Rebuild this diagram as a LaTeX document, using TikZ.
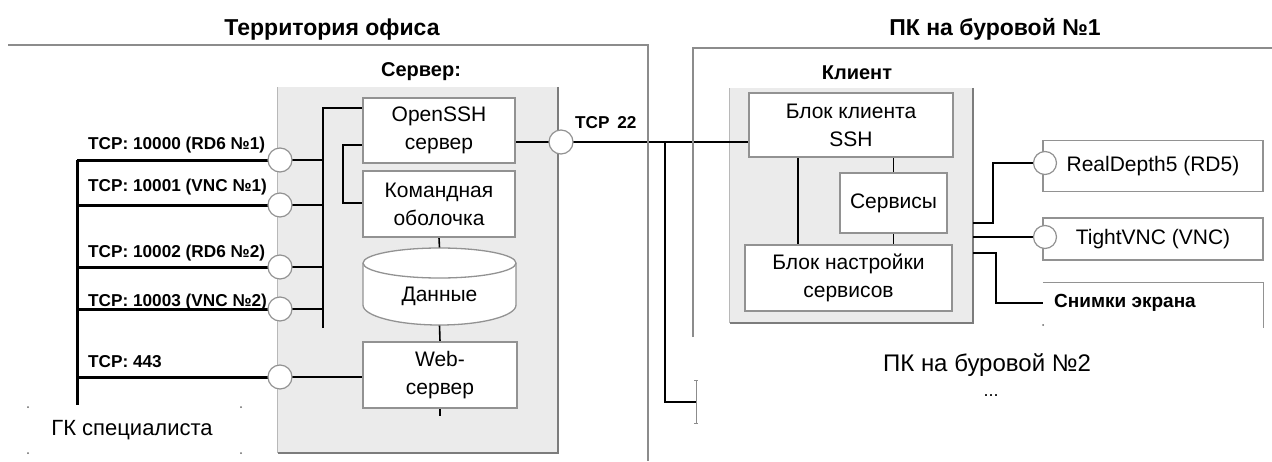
\documentclass[tikz,border=0pt]{standalone}
\usepackage{fontspec}
\setmainfont{Liberation Sans}
\usetikzlibrary{calc}
\definecolor{zonegray}{HTML}{8C8C8C}
\definecolor{boxline}{HTML}{929292}
\definecolor{panel}{HTML}{EBEBEB}
\definecolor{panelhi}{HTML}{B8B8B8}
\definecolor{paneldark}{HTML}{7C7C7C}
\pgfdeclarelayer{bg}
\pgfdeclarelayer{wires}
\pgfsetlayers{bg,wires,main}

\begin{document}
\begin{tikzpicture}[x=1pt,y=-1pt,
  block/.style={draw=boxline, line width=1.3pt, fill=white, inner sep=0pt,
    align=center, font=\fontsize{21}{28}\selectfont},
  panelbox/.style={fill=panel, inner sep=0pt},
  port/.style={circle, draw=boxline, line width=1.2pt, fill=white,
    minimum size=24pt, inner sep=0pt},
  sport/.style={port, minimum size=23pt},
  portlbl/.style={anchor=west, inner sep=0pt, font=\bfseries\fontsize{17.2}{18}\selectfont},
  title/.style={inner sep=0pt, font=\bfseries\fontsize{23}{26}\selectfont},
  caption/.style={inner sep=0pt, font=\fontsize{22}{24}\selectfont},
  heading/.style={inner sep=0pt, font=\bfseries\fontsize{20}{22}\selectfont},
  wire/.style={line width=1.6pt, black},
  busw/.style={line width=2.2pt, black},
  heavy/.style={line width=3pt, black},
  zone/.style={line width=2.6pt, zonegray},
  thinzone/.style={line width=1pt, zonegray},
  dot/.style={fill=black!60, inner sep=0pt, minimum size=2pt, circle},
]
\useasboundingbox (0,0) rectangle (1272,461);

% ---------- zones ----------
\draw[zone] (8,45) -- (648,45) -- (648,461);
\draw[zone] (693,337) -- (693,48) -- (1272,48);
\node[title] (officeT) at (332,30) {Территория офиса};
\node[title] (rig1T) at (995,29) {ПК на буровой №1};
\node[caption, font=\fontsize{24}{26}\selectfont] (rig2T) at (987,365) {ПК на буровой №2};
\node[inner sep=0pt, font=\fontsize{18}{20}\selectfont] (more) at (991,396) {...};

% ---------- panels (behind the wires) ----------
\begin{pgfonlayer}{bg}
  \node[panelbox, minimum width=280pt, minimum height=366pt] (server) at (418,270) {};
  \draw[panelhi, line width=1pt] (server.south west) -- (server.north west);
  \draw[paneldark, line width=2.2pt] (server.north east) -- (server.south east) -- (server.south west);
  \node[panelbox, minimum width=243pt, minimum height=235pt] (client) at (851.5,205.5) {};
  \draw[panelhi, line width=1pt] (client.south west) -- (client.north west);
  \draw[paneldark, line width=2.2pt] (client.north east) -- (client.south east) -- (client.south west);
\end{pgfonlayer}

% ---------- server ----------
\node[heading] (serverT) at (421,72) {Сервер:};

\node[block, minimum width=152pt, minimum height=65pt] (ossh) at (439,130.5) {OpenSSH\\сервер};
\node[block, minimum width=152pt, minimum height=66pt] (cmd) at (439,204) {Командная\\оболочка};
\node[block, minimum width=154pt, minimum height=66pt] (web) at (440,375) {Web-\\сервер};

% data store drawn as a cylinder
\node[inner sep=0pt, minimum width=153pt, minimum height=77pt] (data) at (439.5,286.5) {};
\draw[boxline, line width=1.3pt, fill=white]
  (363,263) -- (363,305) arc[start angle=180, end angle=360, x radius=76.5pt, y radius=20pt]
  -- (516,263) arc[start angle=0, end angle=180, x radius=76.5pt, y radius=15pt] -- cycle;
\draw[boxline, line width=1.3pt] (363,263) arc[start angle=180, end angle=360, x radius=76.5pt, y radius=15pt];
\node[inner sep=0pt, font=\fontsize{21}{24}\selectfont] (dataT) at (439.5,296) {Данные};

% ---------- ports on the server ----------
\node[port] (p1) at (280,160) {};
\node[port] (p2) at (280,205) {};
\node[port] (p3) at (280,267) {};
\node[port] (p4) at (280,309) {};
\node[port] (p5) at (280,377) {};
\node[port] (p22) at (561,142) {};

\node[portlbl] (l1) at (88,145) {TCP: 10000 (RD6 №1)};
\node[portlbl] (l2) at (88,187) {TCP: 10001 (VNC №1)};
\node[portlbl] (l3) at (88,253) {TCP: 10002 (RD6 №2)};
\node[portlbl] (l4) at (88,302) {TCP: 10003 (VNC №2)};
\node[portlbl] (l5) at (88,362) {TCP: 443};
\node[portlbl] (l22) at (575,123) {TCP\hspace{0.45em}22};

% ---------- specialist PC ----------
\node[caption] (spec) at (132,430) {ГК специалиста};
\node[dot] (sd1) at (28,407) {};
\node[dot] (sd2) at (241,407) {};
\node[dot] (sd3) at (28,453) {};
\node[dot] (sd4) at (241,453) {};

% ---------- client ----------
\node[heading] (clientT) at (857,73) {Клиент};

\node[block, minimum width=204pt, minimum height=64pt] (sshc) at (851,125) {Блок клиента\\SSH};
\node[block, minimum width=107pt, minimum height=60pt] (serv) at (893.5,203) {Сервисы};
\node[block, minimum width=207pt, minimum height=66pt] (cfg) at (848.5,278) {Блок настройки\\сервисов};

% ---------- services on the rig PC ----------
\node[block, minimum width=220pt, minimum height=51pt] (rd5) at (1153,166) {RealDepth5 (RD5)};
\node[block, minimum width=220pt, minimum height=42pt] (vnc) at (1153,239) {TightVNC (VNC)};
\node[sport] (rd5p) at (1045,163) {};
\node[sport] (vncp) at (1045,237) {};
\node[inner sep=0pt, minimum width=220pt, minimum height=40pt] (snap) at (1153,303) {};
\draw[boxline, line width=1.3pt] (snap.north west) -- (snap.north east) -- ++(0,45);
\node[heading, font=\bfseries\fontsize{19}{21}\selectfont] (snapT) at (1125,303) {Снимки экрана};
\node[dot] (snd) at (1043,325) {};

% ---------- connectors ----------
\coordinate (pcTop) at (77,160);
\coordinate (pcBot) at (77,405);
\coordinate (busTop) at (323,108);
\coordinate (busBot) at (323,328);
\coordinate (sh1) at (343,145);
\coordinate (sh2) at (343,203);
\coordinate (br) at (665,142);
\coordinate (brEnd) at (696,402);
\coordinate (cx) at (798,0);
\coordinate (o1) at (973,223);
\coordinate (o2) at (973,237);
\coordinate (o3) at (973,253);

\begin{pgfonlayer}{wires}
  % specialist PC to the server ports
  \draw[heavy] (pcTop) -- (pcBot);
  \foreach \p in {p1,p2,p3,p4,p5}
    \draw[heavy] (\p.center -| pcTop) -- (\p.center);
  % ports to the internal bus
  \foreach \p in {p1,p2,p3,p4}
    \draw[busw] (\p.center) -- (\p.center -| busTop);
  \draw[busw] (p5.center) -- (web.west |- p5.center);
  \draw[busw] (busBot) -- (busTop) -- (busTop -| ossh.west);
  \draw[wire] (sh1 -| ossh.west) -- (sh1) -- (sh2) -- (sh2 -| cmd.west);
  \draw[wire] (cmd.south) -- (data.north);
  \draw[wire] (data.south) -- (web.north);
  \draw[wire] (web.south) -- ++(0,7);
  % SSH link
  \draw[busw] (ossh.east |- p22.center) -- (p22.center);
  \draw[busw] (p22.center) -- (sshc.west |- p22.center);
  \draw[busw] (br) |- (brEnd);
  \draw[thinzone] (696,380) -- (696,423);
  \draw[thinzone] (694,380) -- (698,380);
  \draw[thinzone] (694,423) -- (698,423);
  % inside the client
  \draw[wire] (cx |- sshc.south) -- (cx |- cfg.north);
  \draw[wire] (serv.north) -- (serv.north |- sshc.south);
  \draw[wire] (serv.south) -- (serv.south |- cfg.north);
  % client to services
  \draw[busw] (o1) -- ++(20,0) |- (rd5p.center);
  \draw[busw] (o2) -- (vncp.center);
  \draw[busw] (o3) -- ++(23,0) |- (snap.west);
\end{pgfonlayer}
\end{tikzpicture}
\end{document}
